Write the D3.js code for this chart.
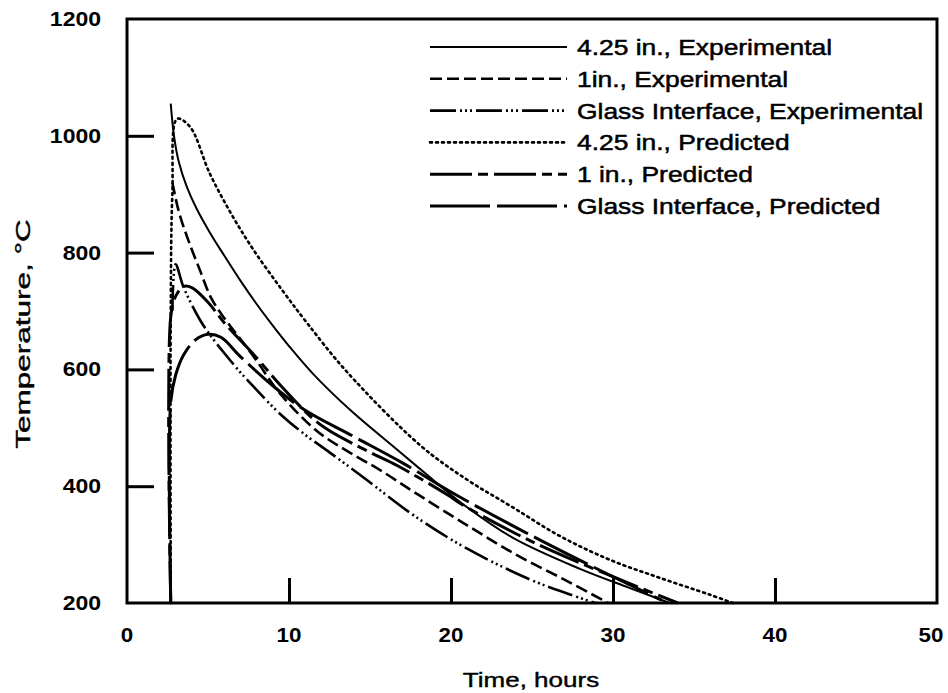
<!DOCTYPE html>
<html><head><meta charset="utf-8">
<script src="https://cdn.jsdelivr.net/npm/d3@7"></script>
<style>body{margin:0;background:#fff}</style>
</head><body>
<svg id="c" width="948" height="693"></svg>
<script>
const xTicks = [0,10,20,30,40,50];
const yTicks = [200,400,600,800,1000,1200];
const seriesNames = ["4.25 in., Experimental","1in., Experimental","Glass Interface, Experimental","4.25 in., Predicted","1 in., Predicted","Glass Interface, Predicted"];
const exp425 = [[2.7,1055],[2.9,1000],[3.2,955],[3.7,912],[4.3,875],[5.1,835],[6,795],[7,752],[8,712],[9,675],[10,640],[11.5,592],[13.8,530],[16.7,462],[18.5,420],[20.6,372],[23.8,312],[28,258],[31,226],[33.5,200]];
const exp1 = [[2.8,920],[3.2,870],[3.8,820],[4.5,770],[5.2,722],[6,688],[7,652],[8,615],[9.4,560],[11.7,495],[13.6,460],[15.6,428],[18,385],[21,333],[24,283],[27,240],[29.7,200]];
const expGlass = [[2.8,700],[3.0,780],[3.5,740],[4.5,685],[5.1,660],[6,628],[7,595],[8,565],[9.4,525],[11,488],[12.5,458],[14.6,415],[17.7,350],[21,293],[24.9,240],[27.3,215],[28.9,200]];
const pred425 = [[2.7,200],[2.7,700],[2.8,900],[3.1,1029],[3.9,1015],[5.1,936],[6.4,868],[7.8,805],[9.6,735],[11.1,680],[13.6,595],[18.1,470],[21,411],[23.8,364],[26.7,315],[29.8,274],[32.9,243],[36,214],[37.4,200]];
const pred1 = [[2.7,200],[2.7,690],[3.0,725],[3.5,742],[4,740],[5,715],[6,680],[8,620],[9.4,575],[11.5,515],[12.5,495],[15,458],[16.7,435],[19.8,385],[20.6,370],[25,305],[30,245],[34,200]];
const predGlass = [[2.7,200],[2.7,545],[3,590],[3.5,625],[4.2,650],[5,660],[5.8,655],[7,622],[9,572],[11,530],[14,485],[17,440],[20,390],[25,315],[30,245],[33,205]];

const series = [exp425, exp1, expGlass, pred425, pred1, predGlass];
const dashes = [null, "12,5", "26,4,2,3,2,3,2,4", "2,4", "42,6,10,6", "60,7"];
const widths = [2, 2.6, 2.6, 2.6, 3, 3];

const svg = d3.select("#c");
const L=127, R=937, T=19, B=603;
const x = d3.scaleLinear().domain([0,50]).range([L,R]);
const y = d3.scaleLinear().domain([200,1200]).range([B,T]);
const FF = "Liberation Sans, Arial, sans-serif";

svg.append("rect").attr("x",L).attr("y",T).attr("width",R-L).attr("height",B-T)
  .attr("fill","none").attr("stroke","#000").attr("stroke-width",3);

const gx = svg.append("g").attr("transform",`translate(0,${B})`)
  .call(d3.axisTop(x).tickValues(xTicks.slice(1,-1)).tickSize(25).tickFormat(""));
gx.select(".domain").remove();
gx.selectAll("line").attr("stroke","#000").attr("stroke-width",3);
const gy = svg.append("g").attr("transform",`translate(${L},0)`)
  .call(d3.axisRight(y).tickValues(yTicks.slice(1,-1)).tickSize(27).tickFormat(""));
gy.select(".domain").remove();
gy.selectAll("line").attr("stroke","#000").attr("stroke-width",3);

xTicks.forEach(v=>{
  svg.append("text").attr("transform",`translate(${x(v)-(v===50?6:0)},${642}) scale(1.12,1)`)
    .attr("text-anchor","middle").attr("font-family",FF).attr("font-weight","bold").attr("font-size",20).text(v);
});
yTicks.forEach(v=>{
  svg.append("text").attr("transform",`translate(101,${y(v)+7}) scale(1.15,1)`)
    .attr("text-anchor","end").attr("font-family",FF).attr("font-weight","bold").attr("font-size",20).text(v);
});
svg.append("text").attr("transform",`translate(531,687) scale(1.3,1)`).attr("text-anchor","middle")
  .attr("font-family",FF).attr("font-size",20).attr("stroke","#000").attr("stroke-width",0.4).text("Time, hours");
svg.append("text").attr("transform",`translate(30,334) rotate(-90) scale(1.5,1)`).attr("text-anchor","middle")
  .attr("font-family",FF).attr("font-size",21).attr("stroke","#000").attr("stroke-width",0.4).text("Temperature, °C");

series.forEach((s,i)=>{
  svg.append("path").datum(s).attr("d", d3.line().x(d=>x(d[0])).y(d=>y(d[1])).curve(d3.curveCatmullRom.alpha(0.5)))
    .attr("fill","none").attr("stroke","#000").attr("stroke-width",widths[i])
    .attr("stroke-dasharray",dashes[i]).attr("stroke-linecap", i==3?"round":"butt");
});

const lg = svg.append("g");
seriesNames.forEach((n,i)=>{
  const yy = 47 + i*31.8;
  lg.append("line").attr("x1",430).attr("x2",567).attr("y1",yy).attr("y2",yy)
    .attr("stroke","#000").attr("stroke-width",widths[i]).attr("stroke-dasharray",dashes[i]).attr("stroke-linecap", i==3?"round":"butt");
  lg.append("text").attr("transform",`translate(577,${yy+8}) scale(1.2,1)`)
    .attr("font-family",FF).attr("font-size",22).attr("stroke","#000").attr("stroke-width",0.5).text(n);
});
</script>
</body></html>
